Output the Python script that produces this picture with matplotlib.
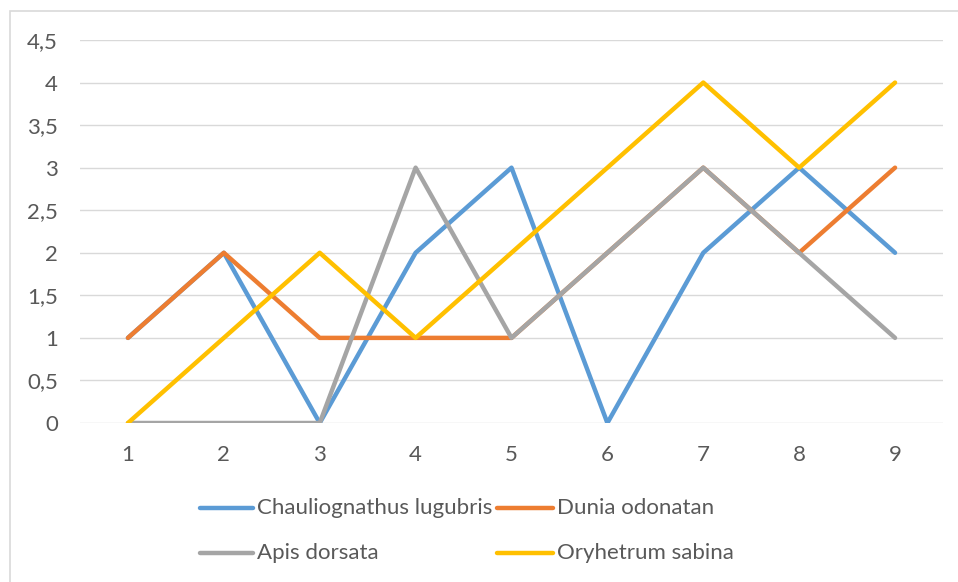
import matplotlib.pyplot as plt
from matplotlib.lines import Line2D
from matplotlib.patches import Rectangle

# values
x_vals = [1, 2, 3, 4, 5, 6, 7, 8, 9]
chauliognathus = [1, 2, 0, 2, 3, 0, 2, 3, 2]
dunia = [1, 2, 1, 1, 1, 2, 3, 2, 3]
apis = [0, 0, 0, 3, 1, 2, 3, 2, 1]
oryhetrum = [0, 1, 2, 1, 2, 3, 4, 3, 4]

names = ['Chauliognathus lugubris', 'Dunia odonatan', 'Apis dorsata', 'Oryhetrum sabina']
colors = ['#5B9BD5', '#ED7D31', '#A5A5A5', '#FFC000']
y_ticks = [0, 0.5, 1, 1.5, 2, 2.5, 3, 3.5, 4, 4.5]
y_labels = ['0', '0,5', '1', '1,5', '2', '2,5', '3', '3,5', '4', '4,5']

plt.rcParams['font.family'] = ['Lato', 'DejaVu Sans']
W, H = 958, 582
fig = plt.figure(figsize=(W / 100, H / 100), dpi=100)

# outer chart border (right and bottom edges are cropped in the reference)
fig.patches.append(Rectangle((10 / W, -0.1), 1.0, 1 - 11 / H + 0.1, transform=fig.transFigure,
                             fill=False, edgecolor='#D9D9D9', linewidth=1.2))

ax = fig.add_axes([80 / W, 1 - 423 / H, (943 - 80) / W, (423 - 40) / H])

for series, c in zip([chauliognathus, dunia, apis, oryhetrum], colors):
    ax.plot(x_vals, series, color=c, linewidth=3.2, solid_capstyle='round',
            solid_joinstyle='round', zorder=3)

ax.set_xlim(0.5, 9.5)
ax.set_ylim(0, 4.5)
ax.set_yticks(y_ticks)
ax.set_yticklabels(y_labels)
ax.set_xticks(x_vals)
ax.grid(axis='y', color='#D9D9D9', linewidth=1)
ax.set_axisbelow(True)
for s in ax.spines.values():
    s.set_visible(False)
ax.tick_params(length=0, labelsize=16, labelcolor='#595959')
ax.tick_params(axis='y', pad=16)
ax.tick_params(axis='x', pad=16)

# legend, two rows of two entries
rows = [508, 553]
cols = [(200, 253), (497, 553)]
for i, (name, c) in enumerate(zip(names, colors)):
    y = 1 - rows[i // 2] / H
    x0, x1 = cols[i % 2]
    fig.lines.append(Line2D([x0 / W, x1 / W], [y, y], transform=fig.transFigure,
                            color=c, linewidth=3.2, solid_capstyle='round'))
    fig.text((x1 + 4) / W, y, name, fontsize=16, color='#595959', va='center', ha='left')

fig.savefig('out.png', dpi=100)
